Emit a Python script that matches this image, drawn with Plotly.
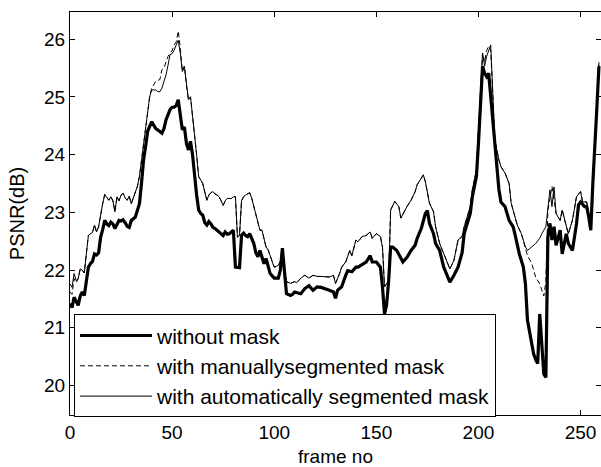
import plotly.graph_objects as go

# ---- data ----
frames_without = [0,1,2,3,4,5,6,7,8,9,10,11,12,13,14,15,16,17,18,19,20,21,22,23,24,25,26,27,28,29,30,32,34,35,36,37,38,40,42,44,45,46,47,49,50,51,52,53,54,55,56,57,58,59,60,61,62,63,64,65,66,67,68,69,70,71,72,73,74,75,76,77,78,79,80,81,82,83,84,85,86,87,88,89,90,91,92,93,94,95,96,97,98,99,100,102,103,104,105,106,108,109,110,112,113,115,117,119,121,123,125,127,129,130,131,133,135,136,138,140,141,143,145,147,148,150,152,153,154,155,156,157,158,160,161,163,165,167,169,170,172,174,175,176,178,179,181,183,185,186,188,190,192,193,194,196,197,199,200,201,202,203,204,205,206,207,208,209,210,211,213,215,217,218,219,220,222,223,224,226,227,228,229,230,231,232,233,234,235,236,237,238,240,241,243,244,246,247,248,249,250,252,253,254,255,256,257,258,259]
psnr_without = [21.42,21.35,21.53,21.45,21.39,21.55,21.62,21.56,21.80,22.05,22.11,22.15,22.28,22.26,22.30,22.57,22.70,22.86,22.80,22.77,22.83,22.80,22.72,22.80,22.86,22.85,22.87,22.82,22.76,22.74,22.86,22.92,23.15,23.50,23.90,24.14,24.40,24.57,24.45,24.40,24.37,24.45,24.60,24.78,24.82,24.82,24.85,24.95,24.72,24.43,24.48,24.20,24.08,24.23,24.00,23.62,23.30,23.04,22.98,22.95,22.82,22.78,22.84,22.80,22.74,22.72,22.69,22.65,22.62,22.60,22.66,22.62,22.63,22.66,22.69,22.05,22.05,22.04,22.60,22.64,22.60,22.58,22.63,22.55,22.46,22.30,22.23,22.34,22.20,22.11,22.20,22.05,21.94,21.90,21.86,21.86,22.00,22.38,22.00,21.59,21.56,21.58,21.62,21.60,21.59,21.68,21.73,21.65,21.71,21.70,21.68,21.65,21.62,21.51,21.65,21.71,21.91,21.99,21.97,22.05,22.05,22.10,22.14,22.25,22.14,22.14,22.05,21.71,21.24,21.39,21.80,22.40,22.40,22.34,22.28,22.14,22.22,22.34,22.43,22.55,22.72,22.98,23.03,22.81,22.63,22.46,22.34,22.05,21.88,21.79,21.91,22.05,22.30,22.63,22.75,22.98,23.27,23.62,24.20,25.00,25.53,25.41,25.35,25.41,25.00,24.72,24.25,23.80,23.40,23.18,23.10,22.86,22.75,22.60,22.45,22.28,22.05,21.76,21.13,20.78,20.55,20.45,20.38,21.24,20.72,20.20,20.14,22.58,22.81,22.52,22.75,22.43,22.69,22.28,22.63,22.46,22.34,22.55,22.80,23.13,23.18,23.10,23.10,22.92,22.69,23.50,24.30,24.83,25.53]

frames_manual = [0,1,2,3,4,5,6,7,8,9,10,11,12,13,14,15,16,17,18,19,20,21,22,23,24,25,26,27,28,29,30,31,32,33,34,35,36,37,38,39,40,42,44,45,46,47,48,49,50,51,52,53,54,55,56,57,58,59,60,61,62,63,64,65,66,67,68,69,70,71,72,73,74,75,76,77,78,79,80,81,82,83,84,85,86,87,88,89,90,91,92,93,94,95,96,97,98,99,100,102,103,104,105,106,108,110,111,113,115,116,117,119,121,123,125,127,129,130,132,133,135,137,138,140,141,143,145,147,148,150,152,153,154,156,157,159,161,162,165,167,169,170,172,173,174,176,178,179,181,184,186,188,190,192,193,196,197,199,200,201,202,203,204,205,206,207,208,210,211,213,215,216,218,219,221,223,224,226,228,230,232,233,234,236,237,238,240,241,243,244,246,248,250,251,253,254,255,256,257,258,259]
psnr_manual = [21.62,21.58,21.85,21.78,21.85,22.02,22.00,21.95,22.28,22.60,22.63,22.65,22.78,22.66,22.75,22.98,23.15,23.31,23.25,23.21,23.27,23.20,23.01,23.27,23.20,23.30,23.33,23.25,23.21,23.28,23.15,23.25,23.36,23.45,23.62,23.90,24.14,24.45,24.72,25.00,25.15,25.27,25.30,25.47,25.50,25.62,25.70,25.76,25.80,25.90,25.95,26.14,25.85,25.44,25.53,25.20,24.95,25.00,24.70,24.34,24.00,23.62,23.55,23.50,23.35,23.21,23.30,23.34,23.36,23.32,23.30,23.27,23.20,23.12,23.20,23.24,23.24,23.24,23.27,23.27,22.57,22.60,23.20,23.27,23.30,23.32,23.34,23.24,23.10,22.95,22.85,22.69,22.69,22.55,22.40,22.35,22.23,22.15,22.05,22.08,22.15,22.38,22.00,21.80,21.77,21.80,21.78,21.86,21.91,21.89,21.86,21.91,21.89,21.89,21.89,21.88,21.91,21.77,21.94,22.05,22.14,22.34,22.25,22.52,22.49,22.58,22.60,22.66,22.55,22.63,22.58,22.40,21.71,21.82,23.04,23.19,23.10,22.90,23.10,23.21,23.36,23.48,23.59,23.65,23.53,23.16,23.01,22.75,22.46,22.20,22.02,22.17,22.52,22.58,22.75,23.10,23.39,23.73,24.43,25.30,25.76,25.60,25.80,25.88,25.80,25.06,24.25,23.91,23.79,23.68,23.50,23.16,22.92,22.78,22.63,22.35,22.25,22.12,21.88,21.76,21.55,21.80,23.04,23.45,23.20,22.98,22.86,23.04,22.75,22.63,22.86,23.27,23.36,23.18,23.18,22.98,22.75,23.55,24.35,24.90,25.60]

frames_auto = [0,1,2,3,4,5,6,7,8,9,10,11,12,13,14,15,16,17,18,19,20,21,22,23,24,25,26,27,28,29,30,31,32,33,34,35,36,37,38,39,40,42,43,44,45,46,47,48,49,50,51,52,53,54,55,56,57,58,59,60,61,62,63,64,65,66,67,68,69,70,71,72,73,74,75,76,77,78,79,80,81,82,83,84,85,86,87,88,89,90,91,92,93,94,95,96,97,98,99,100,102,103,104,105,106,108,110,111,113,115,116,117,119,121,123,125,127,129,130,132,133,135,137,138,140,141,143,145,147,148,150,152,153,154,156,157,159,161,162,165,167,169,170,172,173,174,176,178,179,181,184,186,188,190,192,193,196,197,199,200,201,202,203,204,206,207,208,210,211,213,215,216,218,219,221,223,224,226,228,230,231,233,234,235,236,237,238,240,241,243,244,246,248,250,251,253,254,255,256,257,258,259]
psnr_auto = [21.76,21.70,21.94,21.82,21.85,22.02,22.00,21.95,22.28,22.60,22.63,22.65,22.78,22.66,22.75,22.98,23.15,23.31,23.25,23.21,23.27,23.20,23.01,23.27,23.20,23.30,23.33,23.25,23.21,23.28,23.15,23.25,23.36,23.45,23.62,23.90,24.14,24.45,24.72,25.00,25.12,25.12,25.09,25.09,25.15,25.25,25.38,25.55,25.73,25.75,25.81,25.90,25.98,25.76,25.44,25.53,25.20,24.95,25.00,24.70,24.34,24.00,23.62,23.55,23.50,23.35,23.21,23.30,23.34,23.36,23.32,23.30,23.27,23.20,23.12,23.20,23.24,23.24,23.24,23.27,23.27,22.57,22.60,23.20,23.27,23.30,23.32,23.34,23.24,23.10,22.95,22.85,22.69,22.69,22.55,22.40,22.35,22.23,22.15,22.05,22.08,22.15,22.38,22.00,21.80,21.77,21.80,21.78,21.86,21.91,21.89,21.86,21.91,21.89,21.89,21.89,21.88,21.91,21.77,21.94,22.05,22.14,22.34,22.25,22.52,22.49,22.58,22.60,22.66,22.55,22.63,22.58,22.40,21.71,21.82,23.04,23.19,23.10,22.90,23.10,23.21,23.36,23.48,23.59,23.65,23.53,23.16,23.01,22.75,22.46,22.20,22.02,22.17,22.52,22.58,22.75,23.10,23.39,23.73,24.43,25.30,25.76,25.53,25.70,25.90,25.06,24.25,23.91,23.79,23.68,23.50,23.16,22.92,22.78,22.63,22.40,22.34,22.40,22.46,22.55,22.63,22.75,23.10,23.39,23.10,23.44,22.98,22.86,23.04,22.75,22.63,22.86,23.27,23.36,23.18,23.18,22.98,22.75,23.55,24.35,24.90,25.60]

series_names = ["without mask", "with manuallysegmented mask", "with automatically segmented mask"]
x_ticks = [0, 50, 100, 150, 200, 250]
y_ticks = [20, 21, 22, 23, 24, 25, 26]

FONT = "Liberation Sans, Arial, sans-serif"

fig = go.Figure()
fig.add_trace(go.Scatter(x=frames_without, y=psnr_without, mode="lines", name=series_names[0],
                         line=dict(color="black", width=3.2)))
fig.add_trace(go.Scatter(x=frames_manual, y=psnr_manual, mode="lines", name=series_names[1],
                         line=dict(color="black", width=1, dash="5px,3px")))
fig.add_trace(go.Scatter(x=frames_auto, y=psnr_auto, mode="lines", name=series_names[2],
                         line=dict(color="black", width=1)))

axis_common = dict(showline=True, linecolor="black", linewidth=1, mirror="ticks",
                   ticks="inside", ticklen=5, tickcolor="black", tickwidth=1,
                   showgrid=False, zeroline=False,
                   tickfont=dict(family=FONT, size=19, color="black"))

fig.update_xaxes(range=[0, 260], tickvals=x_ticks,
                 title=dict(text="frame no", font=dict(family=FONT, size=19, color="black"), standoff=8),
                 **axis_common)
fig.update_yaxes(range=[19.49, 26.47], tickvals=y_ticks,
                 title=dict(text="PSNR(dB)", font=dict(family=FONT, size=20, color="black"), standoff=14),
                 **axis_common)

fig.update_layout(
    width=601, height=467,
    margin=dict(l=70, r=0, t=12, b=52, autoexpand=False),
    paper_bgcolor="white", plot_bgcolor="white",
    font=dict(family=FONT, color="black"),
    showlegend=True,
    legend=dict(x=0.0075, y=0.2497, xanchor="left", yanchor="top",
                bgcolor="white", bordercolor="black", borderwidth=1,
                font=dict(family=FONT, size=21, color="black"),
                itemwidth=72, tracegroupgap=0),
)

fig.write_html("out.html")
